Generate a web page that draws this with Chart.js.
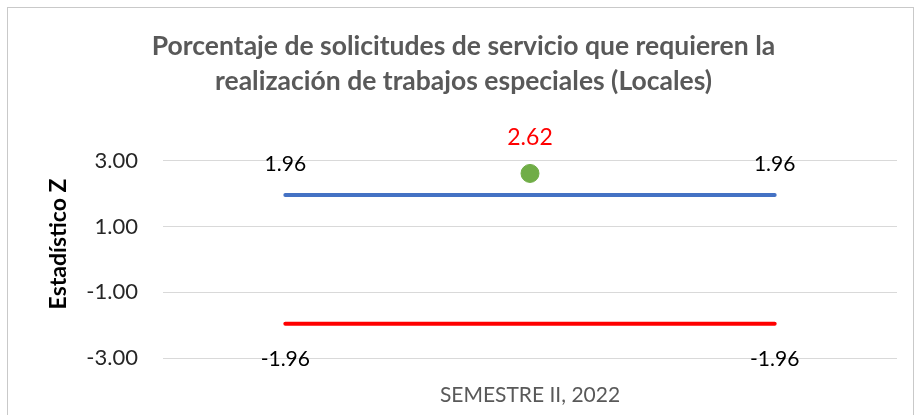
<!DOCTYPE html>
<html>
<head>
<meta charset="utf-8">
<script src="https://cdn.jsdelivr.net/npm/chart.js@4/dist/chart.umd.min.js"></script>
<style>
    body { margin: 0; background: #ffffff; }
    #frame {
        position: absolute; left: 7px; top: 7px;
        width: 905px; height: 430px;
        border: 1px solid #c9c9c9;
    }
    #wrap { position: absolute; left: 0; top: 0; width: 914px; height: 415px; }
</style>
</head>
<body>
<div id="frame"></div>
<div id="wrap"><canvas id="zChart" width="914" height="415"></canvas></div>
<script>
// Data
const categories = ['', 'SEMESTRE II, 2022', ''];
const upperLimit = [1.96, 1.96, 1.96];
const lowerLimit = [-1.96, -1.96, -1.96];
const zValues = [null, 2.62, null];
const yTicks = [-3, -1, 1, 3];

const titleLines = ['Porcentaje de solicitudes de servicio que requieren la', 'realización de trabajos especiales (Locales)'];
const yAxisTitle = 'Estadístico Z';

// Simple value labels drawn at chosen points
const valueLabels = {
    id: 'valueLabels',
    afterDatasetsDraw(chart) {
        const ctx = chart.ctx;
        chart.data.datasets.forEach((ds, i) => {
            if (!ds.labelAt) return;
            const meta = chart.getDatasetMeta(i);
            ctx.save();
            ctx.font = ds.labelFont || '21px Lato';
            ctx.fillStyle = ds.labelColor || '#000';
            ctx.textAlign = 'center';
            ctx.textBaseline = 'middle';
            ds.labelAt.forEach(idx => {
                const pt = meta.data[idx];
                if (!pt) return;
                ctx.fillText(ds.data[idx].toFixed(2), pt.x, pt.y + ds.labelOffset);
            });
            ctx.restore();
        });
    }
};

// Y axis title (sits a bit above the axis middle, like the original)
const sideTitle = {
    id: 'sideTitle',
    afterDraw(chart) {
        const ctx = chart.ctx;
        ctx.save();
        ctx.translate(59, 244);
        ctx.rotate(-Math.PI / 2);
        ctx.font = 'bold 23px Lato';
        ctx.fillStyle = '#000000';
        ctx.textAlign = 'center';
        ctx.textBaseline = 'middle';
        ctx.fillText(yAxisTitle, 0, 0);
        ctx.restore();
    }
};

new Chart(document.getElementById('zChart'), {
    type: 'line',
    data: {
        labels: categories,
        datasets: [
            {
                label: 'Límite superior',
                data: upperLimit,
                borderColor: '#4472C4',
                borderWidth: 4,
                pointRadius: 0,
                borderCapStyle: 'round',
                labelAt: [0, 2],
                labelOffset: -31,
                labelColor: '#000000'
            },
            {
                label: 'Límite inferior',
                data: lowerLimit,
                borderColor: '#FF0000',
                borderWidth: 4,
                pointRadius: 0,
                borderCapStyle: 'round',
                labelAt: [0, 2],
                labelOffset: 35,
                labelColor: '#000000'
            },
            {
                label: 'Estadístico Z',
                data: zValues,
                showLine: false,
                pointRadius: 9,
                pointBackgroundColor: '#70AD47',
                pointBorderColor: '#70AD47',
                labelAt: [1],
                labelOffset: -36,
                labelColor: '#FF0000',
                labelFont: '23px Lato'
            }
        ]
    },
    options: {
        responsive: false,
        animation: false,
        layout: { padding: { left: 30, right: 17, top: 14, bottom: 10 } },
        plugins: {
            legend: { display: false },
            tooltip: { enabled: false },
            title: {
                display: true,
                text: titleLines,
                color: '#595959',
                font: { family: 'Lato', size: 26.5, weight: 'bold', lineHeight: 1.32 },
                padding: { top: 15, bottom: 62 }
            }
        },
        scales: {
            x: {
                offset: true,
                grid: { display: false },
                border: { display: false },
                afterFit: s => { s.height = 47; },
                ticks: { color: '#595959', font: { family: 'Lato', size: 21 }, padding: 17, maxRotation: 0 }
            },
            y: {
                min: -3,
                max: 3,
                afterBuildTicks: axis => { axis.ticks = yTicks.map(v => ({ value: v })); },
                afterFit: s => { s.width = 133; },
                grid: { color: '#d9d9d9', drawTicks: false },
                border: { display: false },
                ticks: {
                    color: '#262626',
                    font: { family: 'Lato', size: 22 },
                    padding: 25,
                    callback: v => v.toFixed(2)
                }
            }
        }
    },
    plugins: [valueLabels, sideTitle]
});
</script>
</body>
</html>
